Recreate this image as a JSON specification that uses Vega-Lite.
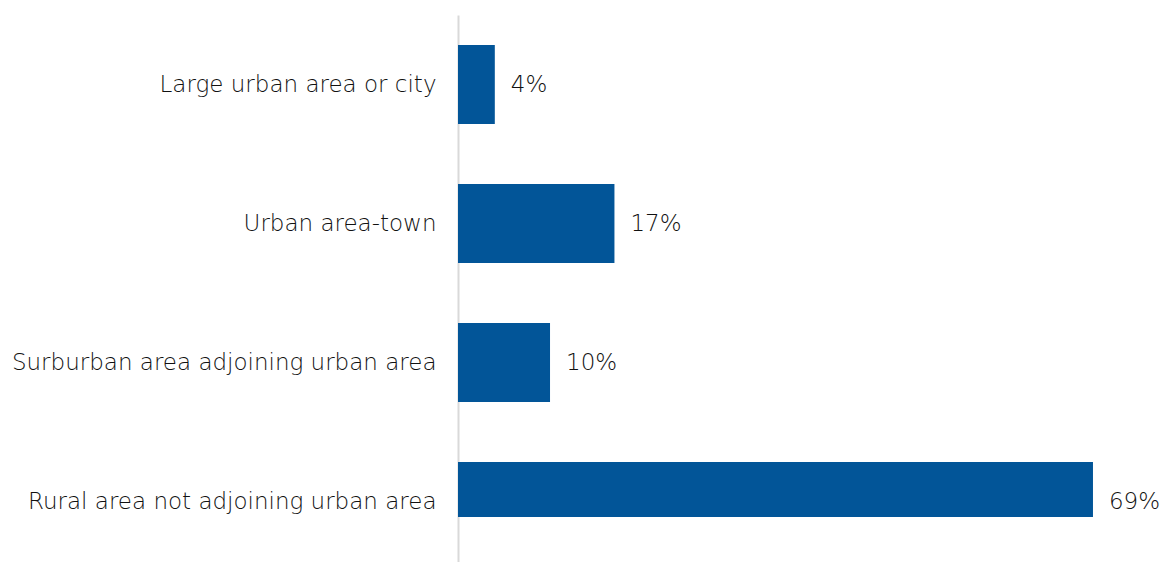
{
  "$schema": "https://vega.github.io/schema/vega-lite/v6.json",
  "autosize": {"type": "none"},
  "padding": {"left": 458, "top": 15, "right": 0, "bottom": 45},
  "width": 704,
  "height": 502,
  "background": "white",
  "config": {"view": {"stroke": null}, "font": "DejaVu Sans"},
  "data": {"values": [
    {"category": "Large urban area or city", "value": 4, "label": "4%"},
    {"category": "Urban area-town", "value": 17, "label": "17%"},
    {"category": "Surburban area adjoining urban area", "value": 10, "label": "10%"},
    {"category": "Rural area not adjoining urban area", "value": 69, "label": "69%"}
  ]},
  "encoding": {
    "y": {"field": "category", "type": "nominal", "sort": null,
      "scale": {"range": [0, 556], "paddingInner": 0.43, "paddingOuter": 0.215},
      "axis": {"title": null, "ticks": false, "domain": true, "domainColor": "#d9d9d9", "domainWidth": 2,
        "labelFontSize": 23, "labelFontWeight": 200, "labelColor": "#111111", "labelPadding": 22, "labelLimit": 500, "labelFont": "DejaVu Sans"}},
    "x": {"field": "value", "type": "quantitative", "scale": {"domain": [0, 76.5]}, "axis": null}
  },
  "layer": [
    {"mark": {"type": "bar", "color": "#025598", "clip": true}},
    {"mark": {"type": "text", "align": "left", "dx": 16, "fontSize": 23, "fontWeight": 200, "color": "#111111", "font": "DejaVu Sans"},
     "encoding": {"text": {"field": "label", "type": "nominal"}}}
  ]
}
